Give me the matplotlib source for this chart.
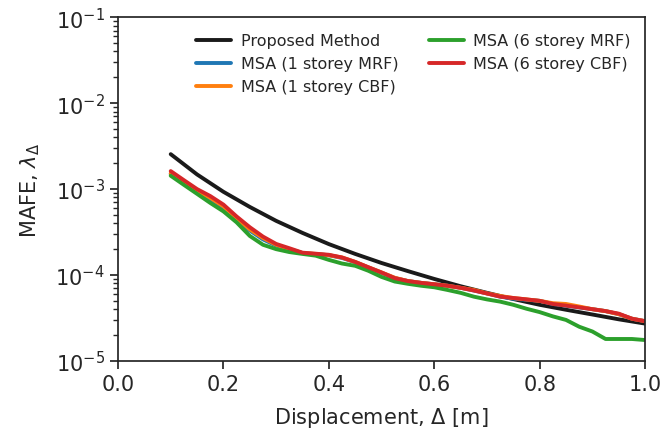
import numpy as np
import matplotlib
matplotlib.use("Agg")
import matplotlib.pyplot as plt
from matplotlib.ticker import LogLocator
import seaborn as sns

sns.set_style("ticks")
plt.rcParams['font.family'] = ['DejaVu Sans']

# displacement grid [m]
disp = [0.100, 0.125, 0.150, 0.175, 0.200, 0.225, 0.250, 0.275, 0.300, 0.325,
        0.350, 0.375, 0.400, 0.425, 0.450, 0.475, 0.500, 0.525, 0.550, 0.575,
        0.600, 0.625, 0.650, 0.675, 0.700, 0.725, 0.750, 0.775, 0.800, 0.825,
        0.850, 0.875, 0.900, 0.925, 0.950, 0.975, 1.000]

# proposed method (smooth curve)
disp_prop = [0.10, 0.15, 0.20, 0.25, 0.30, 0.35, 0.40, 0.45, 0.50, 0.55,
             0.60, 0.65, 0.70, 0.75, 0.80, 0.85, 0.90, 0.95, 1.00]
mafe_prop = [2.55e-3, 1.48e-3, 9.3e-4, 6.2e-4, 4.27e-4, 3.09e-4, 2.29e-4, 1.76e-4,
             1.38e-4, 1.11e-4, 9.0e-5, 7.4e-5, 6.2e-5, 5.25e-5, 4.5e-5, 3.94e-5,
             3.47e-5, 3.05e-5, 2.72e-5]

# MSA results
mafe_1mrf = [1.50e-3, 1.20e-3, 9.4e-4, 7.6e-4, 6.1e-4, 4.4e-4, 3.3e-4, 2.6e-4, 2.2e-4, 2.0e-4,
             1.8e-4, 1.75e-4, 1.7e-4, 1.58e-4, 1.41e-4, 1.22e-4, 1.06e-4, 9.2e-5, 8.5e-5, 8.1e-5,
             7.8e-5, 7.5e-5, 7.1e-5, 6.6e-5, 6.1e-5, 5.6e-5, 5.3e-5, 5.15e-5, 5.0e-5, 4.6e-5,
             4.4e-5, 4.2e-5, 4.0e-5, 3.8e-5, 3.5e-5, 3.1e-5, 2.9e-5]
mafe_1cbf = [1.52e-3, 1.21e-3, 9.6e-4, 7.9e-4, 6.3e-4, 4.6e-4, 3.4e-4, 2.7e-4, 2.25e-4, 2.0e-4,
             1.8e-4, 1.76e-4, 1.7e-4, 1.6e-4, 1.42e-4, 1.23e-4, 1.07e-4, 9.3e-5, 8.5e-5, 8.1e-5,
             7.8e-5, 7.5e-5, 7.1e-5, 6.7e-5, 6.1e-5, 5.7e-5, 5.4e-5, 5.2e-5, 5.0e-5, 4.7e-5,
             4.6e-5, 4.3e-5, 4.0e-5, 3.8e-5, 3.5e-5, 3.1e-5, 2.9e-5]
mafe_6mrf = [1.43e-3, 1.12e-3, 8.8e-4, 6.9e-4, 5.5e-4, 4.1e-4, 2.85e-4, 2.25e-4, 2.0e-4, 1.85e-4,
             1.76e-4, 1.68e-4, 1.5e-4, 1.36e-4, 1.28e-4, 1.12e-4, 9.5e-5, 8.4e-5, 7.9e-5, 7.5e-5,
             7.2e-5, 6.7e-5, 6.2e-5, 5.6e-5, 5.2e-5, 4.9e-5, 4.5e-5, 4.05e-5, 3.7e-5, 3.3e-5,
             3.0e-5, 2.5e-5, 2.2e-5, 1.8e-5, 1.8e-5, 1.8e-5, 1.75e-5]
mafe_6cbf = [1.62e-3, 1.27e-3, 1.00e-3, 8.3e-4, 6.6e-4, 4.8e-4, 3.6e-4, 2.8e-4, 2.3e-4, 2.05e-4,
             1.82e-4, 1.77e-4, 1.72e-4, 1.6e-4, 1.42e-4, 1.23e-4, 1.07e-4, 9.2e-5, 8.5e-5, 8.1e-5,
             7.8e-5, 7.5e-5, 7.1e-5, 6.6e-5, 6.1e-5, 5.6e-5, 5.4e-5, 5.2e-5, 5.0e-5, 4.6e-5,
             4.4e-5, 4.2e-5, 4.0e-5, 3.8e-5, 3.55e-5, 3.1e-5, 2.9e-5]

fig = plt.figure(figsize=(6.63, 4.35), dpi=100)
ax = fig.add_axes([0.178, 0.168, 0.795, 0.79])

lw = 2.8
ax.plot(disp_prop, mafe_prop, color='#1a1a1a', lw=lw, label='Proposed Method')
ax.plot(disp, mafe_1mrf, color='#1f77b4', lw=lw, label='MSA (1 storey MRF)')
ax.plot(disp, mafe_1cbf, color='#ff7f0e', lw=lw, label='MSA (1 storey CBF)')
ax.plot(disp, mafe_6mrf, color='#2ca02c', lw=lw, label='MSA (6 storey MRF)')
ax.plot(disp, mafe_6cbf, color='#d62728', lw=lw, label='MSA (6 storey CBF)')

ax.set_yscale('log')
ax.set_xlim(0, 1)
ax.set_ylim(1e-5, 1e-1)
ax.set_xticks([0.0, 0.2, 0.4, 0.6, 0.8, 1.0])
ax.yaxis.set_minor_locator(LogLocator(base=10, subs=np.arange(2, 10), numticks=20))
ax.tick_params(which='major', labelsize=15, length=6, width=1.25, colors='#262626')
ax.tick_params(which='minor', length=3.5, width=1.0, colors='#262626')
for s in ax.spines.values():
    s.set_linewidth(1.25)
    s.set_color('#262626')
ax.set_xlabel(r'Displacement, $\Delta$ [m]', fontsize=15, labelpad=8)
ax.set_ylabel(r'MAFE, $\lambda_\Delta$', fontsize=15, labelpad=10)

ax.legend(ncol=2, frameon=False, fontsize=11.5, loc='upper right',
          bbox_to_anchor=(0.997, 0.99), handletextpad=0.6,
          handlelength=2.2, columnspacing=1.9, borderaxespad=0.4)

fig.savefig('out.png', dpi=100)
